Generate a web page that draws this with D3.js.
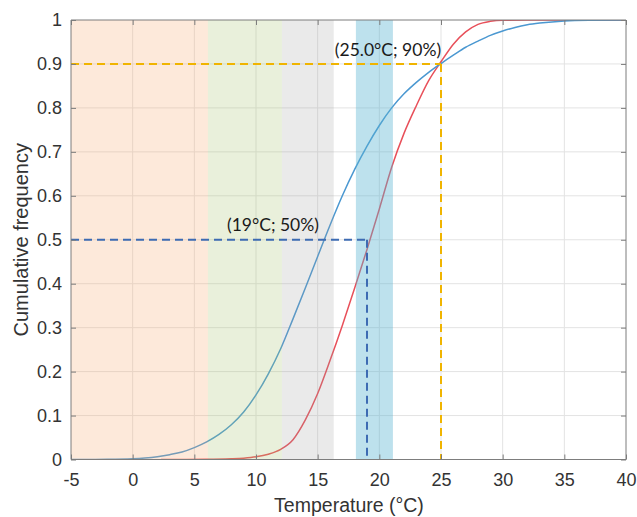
<!DOCTYPE html>
<html>
<head>
<meta charset="utf-8">
<script src="https://cdn.jsdelivr.net/npm/d3@7"></script>
<style>
  html, body { margin: 0; padding: 0; background: #ffffff; }
  svg { display: block; }
</style>
</head>
<body>
<svg id="chart" width="637" height="517"></svg>
<script>
// ---- data ----
const xTicks = [-5, 0, 5, 10, 15, 20, 25, 30, 35, 40];
const xTickLabels = ["-5", "0", "5", "10", "15", "20", "25", "30", "35", "40"];
const yTicks = [0, 0.1, 0.2, 0.3, 0.4, 0.5, 0.6, 0.7, 0.8, 0.9, 1];
const yTickLabels = ["0", "0.1", "0.2", "0.3", "0.4", "0.5", "0.6", "0.7", "0.8", "0.9", "1"];

// blue cumulative curve (temperature, frequency)
const blueT = [-5, -2, 0, 1, 2, 3, 4, 5, 6, 7, 8, 9, 10, 11, 12, 13, 14, 15, 16, 17, 18, 19, 20, 21, 22, 23, 24, 25, 26, 27, 28, 29, 30, 31, 32, 33, 35, 37, 40];
const blueF = [0, 0.0004, 0.0017, 0.0035, 0.0065, 0.011, 0.017, 0.027, 0.040, 0.057, 0.079, 0.108, 0.147, 0.195, 0.252, 0.32, 0.39, 0.462, 0.533, 0.60, 0.66, 0.713, 0.76, 0.80, 0.832, 0.858, 0.881, 0.901, 0.92, 0.938, 0.952, 0.965, 0.975, 0.983, 0.989, 0.993, 0.998, 0.9995, 1];

// red cumulative curve
const redT = [2.3, 6, 8, 9, 10, 11, 12, 13, 14, 15, 16, 17, 18, 19, 20, 21, 22, 23, 24, 25, 26, 27, 28, 29, 30, 32, 40];
const redF = [0, 0.0003, 0.0015, 0.003, 0.006, 0.012, 0.023, 0.045, 0.09, 0.15, 0.225, 0.305, 0.39, 0.478, 0.57, 0.665, 0.742, 0.805, 0.862, 0.905, 0.945, 0.973, 0.99, 0.997, 0.9995, 1, 1];

// shaded temperature bands [from, to]
const bandStart = [-5, 6.1, 12.1, 18.1];
const bandEnd = [6.1, 12.1, 16.3, 21.1];
const bandColors = ["#f8a86a", "#a6c46e", "#a0a0a0", "#5ab4d2"];
const bandOpacity = [0.25, 0.25, 0.22, 0.4];

// reference markers
const markT = [19, 25];
const markF = [0.5, 0.9];
const markLabels = ["(19°C; 50%)", "(25.0°C; 90%)"];
const markColors = ["#3d6bb3", "#f0b400"];

// ---- layout ----
const svg = d3.select("#chart");
const L = 71, R = 626, T = 20, B = 459.5;
const x = d3.scaleLinear().domain([-5, 40]).range([L, R]);
const y = d3.scaleLinear().domain([0, 1]).range([B, T]);

svg.append("defs").append("clipPath").attr("id", "clip")
  .append("rect").attr("x", L).attr("y", T).attr("width", R - L).attr("height", B - T);

// grid
const grid = svg.append("g");
grid.selectAll("line.vx").data(xTicks.slice(1, -1)).enter().append("line")
  .attr("x1", d => x(d)).attr("x2", d => x(d)).attr("y1", T).attr("y2", B)
  .attr("stroke", "#e3e3e3").attr("stroke-width", 1);
grid.selectAll("line.hy").data(yTicks.slice(1, -1)).enter().append("line")
  .attr("x1", L).attr("x2", R).attr("y1", d => y(d)).attr("y2", d => y(d))
  .attr("stroke", "#e3e3e3").attr("stroke-width", 1);

// curves
const line = d3.line().x(d => x(d[0])).y(d => y(d[1])).curve(d3.curveMonotoneX);
const plot = svg.append("g").attr("clip-path", "url(#clip)");
plot.append("path").datum(redT.map((t, i) => [t, redF[i]]))
  .attr("d", line).attr("fill", "none").attr("stroke", "#e8505a").attr("stroke-width", 1.5);
plot.append("path").datum(blueT.map((t, i) => [t, blueF[i]]))
  .attr("d", line).attr("fill", "none").attr("stroke", "#4b98d1").attr("stroke-width", 1.5);

// bands (semi-transparent, over curves)
plot.selectAll("rect.band").data(bandStart).enter().append("rect")
  .attr("x", (d, i) => x(d)).attr("width", (d, i) => x(bandEnd[i]) - x(d))
  .attr("y", T).attr("height", B - T)
  .attr("fill", (d, i) => bandColors[i]).attr("fill-opacity", (d, i) => bandOpacity[i]);

// dashed markers
markT.forEach((t, i) => {
  plot.append("line").attr("x1", x(-5)).attr("x2", x(t)).attr("y1", y(markF[i])).attr("y2", y(markF[i]))
    .attr("stroke", markColors[i]).attr("stroke-width", 2).attr("stroke-dasharray", "8,5");
  plot.append("line").attr("x1", x(t)).attr("x2", x(t)).attr("y1", y(markF[i])).attr("y2", y(0))
    .attr("stroke", markColors[i]).attr("stroke-width", 2).attr("stroke-dasharray", "8,5");
});

// annotation labels
svg.append("text").attr("x", x(markT[0]) - 94).attr("y", y(markF[0]) - 15)
  .attr("text-anchor", "middle").attr("dominant-baseline", "central")
  .attr("font-family", "Lato, 'Open Sans', sans-serif").attr("font-size", 17.5).attr("fill", "#1a1a1a")
  .text(markLabels[0]);
svg.append("text").attr("x", x(markT[1]) - 53).attr("y", y(markF[1]) - 14)
  .attr("text-anchor", "middle").attr("dominant-baseline", "central")
  .attr("font-family", "Lato, 'Open Sans', sans-serif").attr("font-size", 17.5).attr("fill", "#1a1a1a")
  .text(markLabels[1]);

// axes box with inward ticks
const axisColor = "#7d7d7d";
const tickLen = 5;
const xb = d3.axisBottom(x).tickValues(xTicks).tickSize(-tickLen).tickFormat((d, i) => xTickLabels[i]).tickPadding(14);
const xt = d3.axisTop(x).tickValues(xTicks).tickSize(-tickLen).tickFormat("");
const yl = d3.axisLeft(y).tickValues(yTicks).tickSize(-tickLen).tickFormat((d, i) => yTickLabels[i]).tickPadding(9);
const yr = d3.axisRight(y).tickValues(yTicks).tickSize(-tickLen).tickFormat("");

function styleAxis(g) {
  g.select(".domain").attr("stroke", axisColor);
  g.selectAll(".tick line").attr("stroke", axisColor);
  g.selectAll(".tick text").attr("fill", "#333333")
    .attr("font-family", "'Liberation Sans', Arial, sans-serif").attr("font-size", 18);
}
svg.append("g").attr("transform", `translate(0,${B})`).call(xb).call(styleAxis).call(g => g.select(".domain").attr("d", `M${L},0H${R}`));
svg.append("g").attr("transform", `translate(0,${T})`).call(xt).call(styleAxis).call(g => g.select(".domain").attr("d", `M${L},0H${R}`));
svg.append("g").attr("transform", `translate(${L},0)`).call(yl).call(styleAxis).call(g => g.select(".domain").attr("d", `M0,${B}V${T}`));
svg.append("g").attr("transform", `translate(${R},0)`).call(yr).call(styleAxis).call(g => g.select(".domain").attr("d", `M0,${B}V${T}`));

// axis titles
svg.append("text").attr("x", 349).attr("y", 505)
  .attr("text-anchor", "middle").attr("dominant-baseline", "central")
  .attr("font-family", "'Liberation Sans', Arial, sans-serif").attr("font-size", 19.5).attr("fill", "#333333")
  .text("Temperature (°C)");
svg.append("text").attr("transform", `translate(21,${(T + B) / 2}) rotate(-90)`)
  .attr("text-anchor", "middle").attr("dominant-baseline", "central")
  .attr("font-family", "'Liberation Sans', Arial, sans-serif").attr("font-size", 20).attr("fill", "#333333")
  .text("Cumulative frequency");
</script>
</body>
</html>
